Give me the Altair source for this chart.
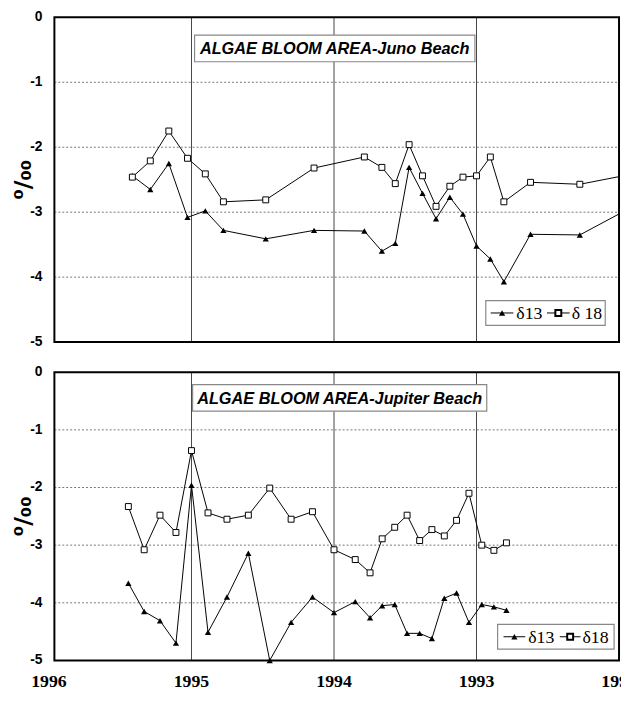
import altair as alt
import pandas as pd

# ---------------- data ----------------
JUNO_YEARS = [1995.415, 1995.289, 1995.159, 1995.028, 1994.903, 1994.776, 1994.479,
              1994.140, 1993.787, 1993.664, 1993.570, 1993.473, 1993.379, 1993.284,
              1993.187, 1993.095, 1993.000, 1992.903, 1992.808, 1992.621, 1992.275, 1991.900]
JUNO_D18 = [-2.46, -2.21, -1.75, -2.17, -2.41, -2.84, -2.81, -2.32, -2.15, -2.31, -2.56,
            -1.96, -2.44, -2.91, -2.60, -2.46, -2.44, -2.15, -2.84, -2.54, -2.57, -2.41]
JUNO_D13 = [-2.44, -2.65, -2.25, -3.08, -2.98, -3.28, -3.41, -3.28, -3.29, -3.60, -3.48,
            -2.31, -2.71, -3.10, -2.77, -3.03, -3.52, -3.72, -4.07, -3.34, -3.35, -2.91]

JUP_YEARS = [1995.443, 1995.332, 1995.221, 1995.109, 1995.000, 1994.884, 1994.751,
             1994.601, 1994.451, 1994.301, 1994.151, 1994.000, 1993.851, 1993.747,
             1993.662, 1993.574, 1993.487, 1993.399, 1993.313, 1993.226, 1993.140,
             1993.053, 1992.963, 1992.878, 1992.790]
JUP_D18 = [-2.33, -3.08, -2.48, -2.78, -1.36, -2.44, -2.55, -2.48, -2.01, -2.55, -2.42,
           -3.08, -3.25, -3.48, -2.89, -2.69, -2.48, -2.92, -2.73, -2.84, -2.57, -2.10,
           -3.00, -3.09, -2.96]
JUP_D13 = [-3.66, -4.15, -4.31, -4.70, -1.96, -4.51, -3.90, -3.14, -5.00, -4.34, -3.90,
           -4.17, -3.98, -4.26, -4.05, -4.03, -4.53, -4.53, -4.62, -3.92, -3.83, -4.34,
           -4.03, -4.07, -4.13]

PANEL_TITLES = ["ALGAE BLOOM AREA-Juno Beach", "ALGAE BLOOM AREA-Jupiter Beach"]
LEGEND_TEXTS = [["δ13", "δ 18"], ["δ13", "δ18"]]
GRID_YEARS = [1995, 1994, 1993]
YEAR_LABELS = ["1996", "1995", "1994", "1993", "1992"]
Y_TICKS = [0, -1, -2, -3, -4, -5]
Y_GRID = [-1, -2, -3, -4]
Y_TITLE = "⁰/₀₀"

X_DOMAIN = [1995.962, 1992.0]
W = 572
H = 651.5                      # from top of upper frame to bottom of lower frame
TOP_RANGE = [329, 0]           # pixel range of the upper panel
BOT_RANGE = [651.5, 359.5]     # pixel range of the lower panel


def series_df(years, d13, d18):
    rows = []
    for yr, a, b in zip(years, d13, d18):
        rows.append({"year": yr, "value": a, "series": "d13"})
        rows.append({"year": yr, "value": b, "series": "d18"})
    return pd.DataFrame(rows)


XS = alt.Scale(domain=X_DOMAIN, zero=False, nice=False)


def X(field="year"):
    return alt.X(f"{field}:Q", scale=XS, axis=None)


def Y(rng, field="value"):
    return alt.Y(f"{field}:Q", scale=alt.Scale(domain=[-5, 0], range=rng, nice=False, zero=False),
                 axis=None)


def Y2(field):
    return alt.Y2(f"{field}:Q")


def panel_layers(df, title, tbox, legend, leg_texts, rng):
    one = pd.DataFrame({"k": [0]})
    top_px = min(rng)
    h = abs(rng[0] - rng[1])
    layers = []

    # horizontal dotted grid
    layers.append(alt.Chart(pd.DataFrame({"v": Y_GRID})).mark_rule(
        color="#777777", strokeWidth=1, strokeDash=[2, 2]).encode(
        y=Y(rng, "v"), x=alt.value(0), x2=alt.value(W)))
    # vertical year lines
    layers.append(alt.Chart(pd.DataFrame({"year": GRID_YEARS, "a": [0] * 3, "b": [-5] * 3}))
                  .mark_rule(color="#444444", strokeWidth=1).encode(
        x=X(), y=Y(rng, "a"), y2=Y2("b")))
    # y tick labels
    layers.append(alt.Chart(pd.DataFrame({"v": Y_TICKS, "t": [str(v) for v in Y_TICKS]}))
                  .mark_text(font="Liberation Sans", fontWeight="bold", fontSize=14,
                             color="black", align="right", baseline="middle").encode(
        y=Y(rng, "v"), x=alt.value(-12), text="t:N"))
    # y title
    layers.append(alt.Chart(pd.DataFrame({"t": [Y_TITLE]})).mark_text(
        font="DejaVu Sans", fontWeight="bold", fontSize=24, color="black", angle=270,
        align="center", baseline="middle").encode(
        x=alt.value(-31), y=alt.value(top_px + h / 2), text="t:N"))

    base = alt.Chart(df)
    layers.append(base.mark_line(color="black", strokeWidth=1, clip=True).encode(
        x=X(), y=Y(rng), detail="series:N"))
    layers.append(base.transform_filter("datum.series == 'd13' && datum.year > 1992").mark_point(
        shape="triangle-up", filled=True, color="black", size=40, opacity=1).encode(
        x=X(), y=Y(rng)))
    layers.append(base.transform_filter("datum.series == 'd18' && datum.year > 1992").mark_point(
        shape="square", fill="white", stroke="black", strokeWidth=1,
        size=36, opacity=1, filled=False).encode(x=X(), y=Y(rng)))

    # title box
    x0, x1, y0, y1 = tbox
    layers.append(alt.Chart(one).mark_rect(fill="white", stroke="#888888", strokeWidth=1.2).encode(
        x=alt.value(x0), x2=alt.value(x1), y=alt.value(top_px + y0), y2=alt.value(top_px + y1)))
    layers.append(alt.Chart(pd.DataFrame({"t": [title]})).mark_text(
        font="Liberation Sans", fontWeight="bold", fontStyle="italic", fontSize=16.5,
        color="black", align="center", baseline="middle").encode(
        x=alt.value((x0 + x1) / 2), y=alt.value(top_px + (y0 + y1) / 2 + 1), text="t:N"))

    # legend
    lx0, lx1, ly0, ly1, l1a, l1b, t1, l2a, l2b, t2 = legend
    lm = top_px + (ly0 + ly1) / 2
    layers.append(alt.Chart(one).mark_rect(fill="white", stroke="#888888", strokeWidth=1.2).encode(
        x=alt.value(lx0), x2=alt.value(lx1), y=alt.value(top_px + ly0), y2=alt.value(top_px + ly1)))
    for a, b in [(l1a, l1b), (l2a, l2b)]:
        layers.append(alt.Chart(one).mark_rule(color="black", strokeWidth=1).encode(
            x=alt.value(a), x2=alt.value(b), y=alt.value(lm)))
    layers.append(alt.Chart(one).mark_point(shape="triangle-up", filled=True, color="black",
                                            size=40, opacity=1).encode(
        x=alt.value((l1a + l1b) / 2), y=alt.value(lm)))
    layers.append(alt.Chart(one).mark_point(shape="square", fill="white", stroke="black",
                                            size=36, opacity=1).encode(
        x=alt.value((l2a + l2b) / 2), y=alt.value(lm)))
    for txt, tx in [(leg_texts[0], t1), (leg_texts[1], t2)]:
        layers.append(alt.Chart(pd.DataFrame({"t": [txt]})).mark_text(
            font="Liberation Serif", fontSize=18, color="black", align="left",
            baseline="middle").encode(x=alt.value(tx), y=alt.value(lm + 1), text="t:N"))

    # frame
    layers.append(alt.Chart(pd.DataFrame({"x1": [X_DOMAIN[0]], "x2": [X_DOMAIN[1]],
                                          "a": [0], "b": [-5]})).mark_rect(
        fillOpacity=0, stroke="black", strokeWidth=2).encode(
        x=X("x1"), x2=alt.X2("x2:Q"), y=Y(rng, "a"), y2=Y2("b")))
    return layers


layers = []
layers += panel_layers(series_df(JUNO_YEARS, JUNO_D13, JUNO_D18), PANEL_TITLES[0],
                       (142, 426, 18, 45),
                       (437, 558, 287, 312, 442, 465, 468, 499, 522, 524),
                       LEGEND_TEXTS[0], TOP_RANGE)
layers += panel_layers(series_df(JUP_YEARS, JUP_D13, JUP_D18), PANEL_TITLES[1],
                       (140, 438, 12.5, 39.5),
                       (449, 567, 255.5, 280.5, 455, 477, 480, 512, 533, 535),
                       LEGEND_TEXTS[1], BOT_RANGE)

# year labels under the lower panel
layers.append(alt.Chart(pd.DataFrame({"label": YEAR_LABELS,
                                      "year": [int(s) for s in YEAR_LABELS]})).mark_text(
    font="Liberation Serif", fontWeight="bold", fontSize=18, color="black",
    align="center", baseline="alphabetic").encode(
    x=X(), y=alt.value(H + 26.5), text="label:N"))

chart = alt.layer(*layers).resolve_scale(y="independent").properties(
    width=W, height=H,
    autosize=alt.AutoSizeParams(type="none"),
    padding={"left": 47, "top": 5, "right": 2, "bottom": 27.5},
    background="white",
).configure_view(stroke="transparent")

chart.save("out.html", embed_options={"renderer": "svg", "actions": False})
